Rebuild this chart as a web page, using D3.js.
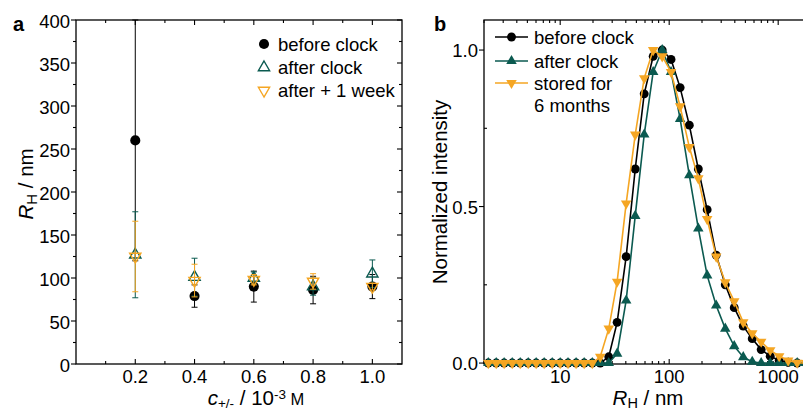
<!DOCTYPE html>
<html>
<head>
<meta charset="utf-8">
<script src="https://cdn.jsdelivr.net/npm/d3@7"></script>
<style>
  html, body { margin: 0; padding: 0; background: #fff; overflow: hidden; }
  svg { display: block; font-family: "Liberation Sans", Arial, sans-serif; }
</style>
</head>
<body>
<svg id="fig" width="803" height="412"></svg>
<script>
// ---- Panel a: hydrodynamic radius vs. salt concentration ----
const concentrations = [0.2, 0.4, 0.6, 0.8, 1.0];
const rhBefore    = [260, 79, 90, 86, 90];
const rhBeforeErr = [140, 13, 18, 16, 14];
const rhAfter     = [127, 101, 100, 90, 105];
const rhAfterErr  = [50, 22, 7, 10, 16];
const rhWeek      = [125, 97, 98, 96, 90];
const rhWeekErr   = [41, 19, 6, 9, 4];
const aXTicks = [0.2, 0.4, 0.6, 0.8, 1.0];
const aXMinor = [0.1, 0.3, 0.5, 0.7, 0.9];
const aYTicks = [0, 50, 100, 150, 200, 250, 300, 350, 400];
const aYMinor = [25, 75, 125, 175, 225, 275, 325, 375];
const aLegend = ["before clock", "after clock", "after + 1 week"];

// ---- Panel b: size distributions (normalized intensity) ----
const sizeBins = [2.19, 2.59, 3.06, 3.63, 4.30, 5.09, 6.02, 7.13, 8.45, 10.0,
  11.8, 14.0, 16.6, 19.7, 23.3, 27.9, 33.3, 40.3, 48.8, 59.0,
  71.3, 86.3, 104, 126, 153, 185, 223, 270, 327, 395,
  478, 578, 698, 845, 1021, 1235, 1494, 1806];
const intBefore = [0, 0, 0, 0, 0, 0, 0, 0, 0, 0,
  0, 0, 0, 0, 0, 0.02, 0.13, 0.34, 0.62, 0.86,
  0.98, 1.0, 0.97, 0.88, 0.76, 0.62, 0.49, 0.345, 0.25, 0.177,
  0.118, 0.078, 0.043, 0.022, 0.008, 0.002, 0, 0];
const intAfter = [0, 0, 0, 0, 0, 0, 0, 0, 0, 0,
  0, 0, 0, 0, 0, 0, 0.03, 0.20, 0.47, 0.73,
  0.93, 1.0, 0.93, 0.78, 0.60, 0.43, 0.28, 0.184, 0.11, 0.054,
  0.019, 0.004, 0, 0, 0, 0, 0, 0];
const intStored = [0, 0, 0, 0, 0, 0, 0, 0, 0, 0,
  0, 0, 0, 0, 0.02, 0.11, 0.26, 0.51, 0.73, 0.91,
  1.0, 0.98, 0.93, 0.82, 0.69, 0.59, 0.46, 0.34, 0.258, 0.197,
  0.13, 0.095, 0.068, 0.041, 0.022, 0.008, 0.001, 0];
const bXTicks = [10, 100, 1000];
const bXMinor = [2,3,4,5,6,7,8,9,20,30,40,50,60,70,80,90,200,300,400,500,600,700,800,900,2000];
const bYTicks = [0, 0.5, 1.0];
const bYMinor = [0.25, 0.75];
const bLegend = ["before clock", "after clock", "stored for", "6 months"];

const BLACK = "#000000", TEAL = "#0b5a50", ORANGE = "#f5a623";
const FS = 18.5;      // tick labels and legend
const FT = 20.5;      // axis titles

const svg = d3.select("#fig");

// ---------- shared helpers ----------
function frame(g, x0, x1, y0, y1) {
  g.append("rect").attr("x", x0).attr("y", y0)
    .attr("width", x1 - x0).attr("height", y1 - y0)
    .attr("fill", "none").attr("stroke", "#000").attr("stroke-width", 1.3);
}
function vTicks(g, vals, xs, yBase, len) {
  g.selectAll(null).data(vals).enter().append("line")
    .attr("x1", d => xs(d)).attr("x2", d => xs(d))
    .attr("y1", yBase).attr("y2", yBase + len)
    .attr("stroke", "#000").attr("stroke-width", 1.1);
}
function hTicks(g, vals, ys, xBase, len) {
  g.selectAll(null).data(vals).enter().append("line")
    .attr("y1", d => ys(d)).attr("y2", d => ys(d))
    .attr("x1", xBase).attr("x2", xBase + len)
    .attr("stroke", "#000").attr("stroke-width", 1.1);
}
const sym = (type, size) => d3.symbol().type(type).size(size)();

// ================= Panel a =================
const xA = d3.scaleLinear().domain([0, 1.1]).range([76, 402]);
const yA = d3.scaleLinear().domain([0, 400]).range([364, 20]);
const gA = svg.append("g");

// ticks: bottom/top inward, left outward, right inward
vTicks(gA, aXTicks, xA, 364, -5);
vTicks(gA, aXMinor, xA, 364, -3);
vTicks(gA, aXTicks, xA, 20, 5);
vTicks(gA, aXMinor, xA, 20, 3);
hTicks(gA, aYTicks, yA, 76, -5);
hTicks(gA, aYMinor, yA, 76, -3);
hTicks(gA, aYTicks, yA, 402, -5);
hTicks(gA, aYMinor, yA, 402, -3);
frame(gA, 76, 402, 20, 364);

gA.selectAll(null).data(aXTicks).enter().append("text")
  .attr("x", d => xA(d)).attr("y", 383).attr("text-anchor", "middle")
  .attr("font-size", FS).text(d => d.toFixed(1));
gA.selectAll(null).data(aYTicks).enter().append("text")
  .attr("x", 70).attr("y", d => yA(d)).attr("dy", "0.42em").attr("text-anchor", "end")
  .attr("font-size", FS).text(d => d);

// series with error bars
function errSeries(vals, errs, color, symbolPath, filled) {
  const g = gA.append("g");
  const pts = concentrations.map((c, i) => ({ c, v: vals[i], e: errs[i] }));
  g.selectAll(null).data(pts).enter().append("line")
    .attr("x1", d => xA(d.c)).attr("x2", d => xA(d.c))
    .attr("y1", d => yA(d.v - d.e)).attr("y2", d => yA(d.v + d.e))
    .attr("stroke", color).attr("stroke-width", 1);
  [-1, 1].forEach(s => {
    g.selectAll(null).data(pts).enter().append("line")
      .attr("x1", d => xA(d.c) - 3).attr("x2", d => xA(d.c) + 3)
      .attr("y1", d => yA(d.v + s * d.e)).attr("y2", d => yA(d.v + s * d.e))
      .attr("stroke", color).attr("stroke-width", 1);
  });
  g.selectAll(null).data(pts).enter().append("path")
    .attr("d", symbolPath.d)
    .attr("transform", d => `translate(${xA(d.c)},${yA(d.v)}) rotate(${symbolPath.rot})`)
    .attr("fill", filled ? color : "none")
    .attr("stroke", color).attr("stroke-width", filled ? 0 : 1.4);
}
const aCircle = { d: sym(d3.symbolCircle, 80), rot: 0 };
const aUp = { d: sym(d3.symbolTriangle, 55), rot: 0 };
const aDown = { d: sym(d3.symbolTriangle, 55), rot: 180 };
errSeries(rhBefore, rhBeforeErr, BLACK, aCircle, true);
errSeries(rhAfter, rhAfterErr, TEAL, aUp, false);
errSeries(rhWeek, rhWeekErr, ORANGE, aDown, false);

// legend a
const legA = [
  { t: aLegend[0], c: BLACK, s: aCircle, f: true, y: 44 },
  { t: aLegend[1], c: TEAL, s: aUp, f: false, y: 67.5 },
  { t: aLegend[2], c: ORANGE, s: aDown, f: false, y: 90.5 }
];
legA.forEach(l => {
  gA.append("path").attr("d", l.s.d)
    .attr("transform", `translate(264,${l.y}) rotate(${l.s.rot})`)
    .attr("fill", l.f ? l.c : "none").attr("stroke", l.c).attr("stroke-width", l.f ? 0 : 1.4);
  gA.append("text").attr("x", 278).attr("y", l.y + 6.5).attr("font-size", FS).text(l.t);
});

// axis titles a
const yTitleA = gA.append("text").attr("transform", "translate(33,184) rotate(-90)")
  .attr("text-anchor", "middle").attr("font-size", FT);
yTitleA.append("tspan").attr("font-style", "italic").text("R");
yTitleA.append("tspan").attr("font-size", 15).attr("dy", 4).text("H");
yTitleA.append("tspan").attr("dy", -4).text(" / nm");

const xTitleA = gA.append("text").attr("x", 256).attr("y", 404.5)
  .attr("text-anchor", "middle").attr("font-size", FT);
xTitleA.append("tspan").attr("font-style", "italic").text("c");
xTitleA.append("tspan").attr("font-size", 13.5).attr("dy", 3).text("+/-");
xTitleA.append("tspan").attr("dy", -3).text(" / 10");
xTitleA.append("tspan").attr("font-size", 13.5).attr("dy", -6).text("-3");
xTitleA.append("tspan").attr("font-size", 16.5).attr("dy", 6).text(" M");

gA.append("text").attr("x", 13).attr("y", 31).attr("font-size", 20)
  .attr("font-weight", "bold").text("a");

// ================= Panel b =================
const xB = d3.scaleLog().domain([2, 2000]).range([484, 811]);
const yB = d3.scaleLinear().domain([-0.003, 1.096]).range([364, 20]);
const gB = svg.append("g");

vTicks(gB, bXTicks, xB, 364, -5);
vTicks(gB, bXMinor, xB, 364, -3);
vTicks(gB, bXTicks, xB, 20, 5);
vTicks(gB, bXMinor, xB, 20, 3);
hTicks(gB, bYTicks, yB, 484, -5);
hTicks(gB, bYMinor, yB, 484, 3);
frame(gB, 484, 811, 20, 364);

gB.selectAll(null).data(bXTicks).enter().append("text")
  .attr("x", d => xB(d)).attr("y", 383).attr("text-anchor", "middle")
  .attr("font-size", FS).text(d => d);
gB.selectAll(null).data(bYTicks).enter().append("text")
  .attr("x", 478).attr("y", d => yB(d)).attr("dy", "0.38em").attr("text-anchor", "end")
  .attr("font-size", FS).text(d => d.toFixed(1));

const bCircle = { d: sym(d3.symbolCircle, 62), rot: 0 };
const bUp = { d: sym(d3.symbolTriangle, 48), rot: 0 };
const bDown = { d: sym(d3.symbolTriangle, 48), rot: 180 };

function distSeries(vals, color, s) {
  const g = gB.append("g");
  const pts = sizeBins.map((r, i) => ({ r, v: vals[i] }));
  g.append("path").datum(pts)
    .attr("d", d3.line().x(d => xB(d.r)).y(d => yB(d.v)))
    .attr("fill", "none").attr("stroke", color).attr("stroke-width", 1.6);
  g.selectAll(null).data(pts).enter().append("path")
    .attr("d", s.d)
    .attr("transform", d => `translate(${xB(d.r)},${yB(d.v)}) rotate(${s.rot})`)
    .attr("fill", color);
}
distSeries(intBefore, BLACK, bCircle);
distSeries(intAfter, TEAL, bUp);
distSeries(intStored, ORANGE, bDown);

// legend b
const legB = [
  { t: bLegend[0], c: BLACK, s: bCircle, y: 37 },
  { t: bLegend[1], c: TEAL, s: bUp, y: 61 },
  { t: bLegend[2], c: ORANGE, s: bDown, y: 83 }
];
legB.forEach(l => {
  gB.append("line").attr("x1", 495).attr("x2", 528).attr("y1", l.y).attr("y2", l.y)
    .attr("stroke", l.c).attr("stroke-width", 1.6);
  gB.append("path").attr("d", l.s.d)
    .attr("transform", `translate(511.5,${l.y}) rotate(${l.s.rot})`).attr("fill", l.c);
  gB.append("text").attr("x", 534).attr("y", l.y + 6.5).attr("font-size", FS).text(l.t);
});
gB.append("text").attr("x", 534).attr("y", 105 + 6.5).attr("font-size", FS).text(bLegend[3]);

gB.append("text").attr("transform", "translate(447,192) rotate(-90)")
  .attr("text-anchor", "middle").attr("font-size", FT).text("Normalized intensity");

const xTitleB = gB.append("text").attr("x", 648).attr("y", 404.5)
  .attr("text-anchor", "middle").attr("font-size", FT);
xTitleB.append("tspan").attr("font-style", "italic").text("R");
xTitleB.append("tspan").attr("font-size", 14.5).attr("dy", 3).text("H");
xTitleB.append("tspan").attr("dy", -3).text(" / nm");

gB.append("text").attr("x", 434).attr("y", 31).attr("font-size", 20)
  .attr("font-weight", "bold").text("b");
</script>
</body>
</html>
